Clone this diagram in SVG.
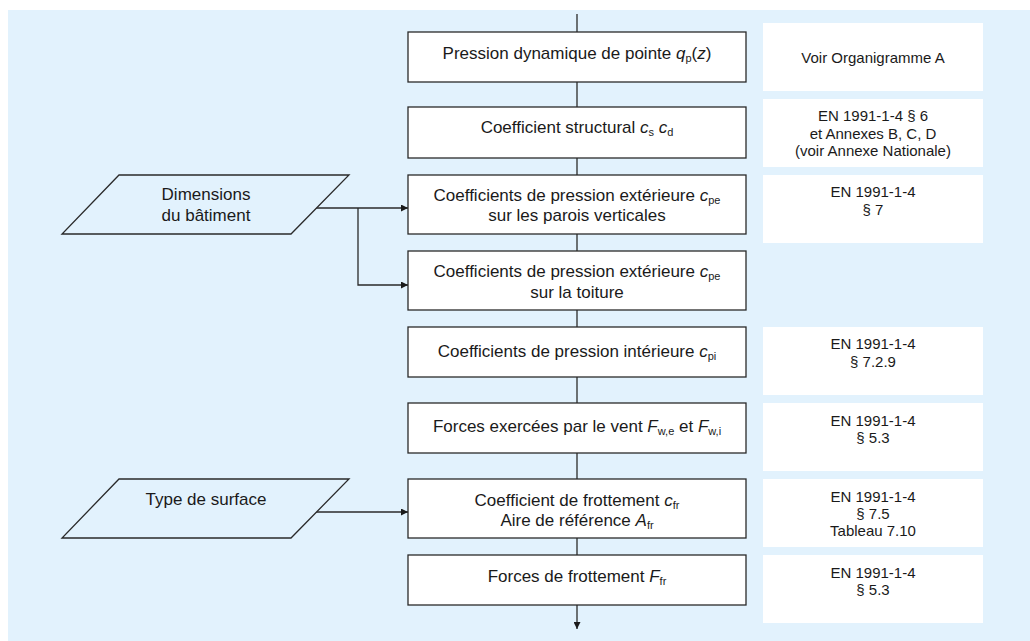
<svg xmlns="http://www.w3.org/2000/svg" width="1030" height="641" viewBox="0 0 1030 641">
<defs>
<style>
.bg{fill:#E2F2FD}
.box{fill:#FFFFFF;stroke:#2A2A2A;stroke-width:1.3}
.ref{fill:#FFFFFF}
.para{fill:#E2F2FD;stroke:#2A2A2A;stroke-width:1.3}
.conn{fill:none;stroke:#2A2A2A;stroke-width:1.3}
.t{font-family:"Liberation Sans",Arial,sans-serif;font-size:17px;fill:#1A1A1A;text-anchor:middle}
.r{font-family:"Liberation Sans",Arial,sans-serif;font-size:15px;fill:#1A1A1A;text-anchor:middle}
.i{font-style:italic}
.s{font-size:11px}
</style>
<marker id="arr" viewBox="0 0 10 10" refX="10" refY="5" markerWidth="7" markerHeight="7" markerUnits="userSpaceOnUse" orient="auto">
<path d="M0,0 L10,5 L0,10 Z" fill="#1A1A1A"/>
</marker>
</defs>
<rect class="bg" x="8" y="10" width="1022" height="631"/>

<g id="connectors">
<line class="conn" x1="577" y1="14" x2="577" y2="32"/>
<line class="conn" x1="577" y1="82" x2="577" y2="107"/>
<line class="conn" x1="577" y1="158" x2="577" y2="175"/>
<line class="conn" x1="577" y1="234" x2="577" y2="251"/>
<line class="conn" x1="577" y1="310" x2="577" y2="327"/>
<line class="conn" x1="577" y1="377" x2="577" y2="403"/>
<line class="conn" x1="577" y1="453" x2="577" y2="479"/>
<line class="conn" x1="577" y1="538" x2="577" y2="555"/>
<line class="conn" x1="577" y1="605" x2="577" y2="629" marker-end="url(#arr)"/>
<line class="conn" x1="315" y1="208" x2="408" y2="208" marker-end="url(#arr)"/>
<polyline class="conn" points="358,208 358,285 408,285" marker-end="url(#arr)"/>
<line class="conn" x1="315" y1="512" x2="408" y2="512" marker-end="url(#arr)"/>
</g>

<g id="n-pression">
<rect class="box" x="408" y="32" width="338" height="50"/>
<text class="t" x="577" y="59">Pression dynamique de pointe <tspan class="i">q</tspan><tspan class="s" dy="3">p</tspan><tspan dy="-3">(</tspan><tspan class="i">z</tspan>)</text>
</g>
<g id="n-structural">
<rect class="box" x="408" y="107" width="338" height="51"/>
<text class="t" x="577" y="133">Coefficient structural <tspan class="i">c</tspan><tspan class="s" dy="3">s</tspan><tspan dy="-3"> </tspan><tspan class="i">c</tspan><tspan class="s" dy="3">d</tspan></text>
</g>
<g id="n-cpe-parois">
<rect class="box" x="408" y="175" width="338" height="59"/>
<text class="t" x="577" y="201">Coefficients de pression extérieure <tspan class="i">c</tspan><tspan class="s" dy="3">pe</tspan></text>
<text class="t" x="577" y="221">sur les parois verticales</text>
</g>
<g id="n-cpe-toiture">
<rect class="box" x="408" y="251" width="338" height="59"/>
<text class="t" x="577" y="277">Coefficients de pression extérieure <tspan class="i">c</tspan><tspan class="s" dy="3">pe</tspan></text>
<text class="t" x="577" y="298">sur la toiture</text>
</g>
<g id="n-cpi">
<rect class="box" x="408" y="327" width="338" height="50"/>
<text class="t" x="577" y="357">Coefficients de pression intérieure <tspan class="i">c</tspan><tspan class="s" dy="3">pi</tspan></text>
</g>
<g id="n-forces-vent">
<rect class="box" x="408" y="403" width="338" height="50"/>
<text class="t" x="577" y="432">Forces exercées par le vent <tspan class="i">F</tspan><tspan class="s" dy="3">w,e</tspan><tspan dy="-3"> et </tspan><tspan class="i">F</tspan><tspan class="s" dy="3">w,i</tspan></text>
</g>
<g id="n-frottement">
<rect class="box" x="408" y="479" width="338" height="59"/>
<text class="t" x="577" y="506">Coefficient de frottement <tspan class="i">c</tspan><tspan class="s" dy="3">fr</tspan></text>
<text class="t" x="577" y="526">Aire de référence <tspan class="i">A</tspan><tspan class="s" dy="3">fr</tspan></text>
</g>
<g id="n-forces-frottement">
<rect class="box" x="408" y="555" width="338" height="50"/>
<text class="t" x="577" y="582">Forces de frottement <tspan class="i">F</tspan><tspan class="s" dy="3">fr</tspan></text>
</g>

<g id="n-dimensions">
<polygon class="para" points="119,175 349,175 291,234 62,234"/>
<text class="t" x="206" y="200">Dimensions</text>
<text class="t" x="206" y="221">du bâtiment</text>
</g>
<g id="n-surface">
<polygon class="para" points="119,479 349,479 291,538 62,538"/>
<text class="t" x="206" y="505">Type de surface</text>
</g>

<g id="ref-1">
<rect class="ref" x="763" y="23" width="220" height="68"/>
<text class="r" x="873" y="63">Voir Organigramme A</text>
</g>
<g id="ref-2">
<rect class="ref" x="763" y="99" width="220" height="68"/>
<text class="r" x="873" y="121">EN 1991-1-4 § 6</text>
<text class="r" x="873" y="139">et Annexes B, C, D</text>
<text class="r" x="873" y="156">(voir Annexe Nationale)</text>
</g>
<g id="ref-3">
<rect class="ref" x="763" y="175" width="220" height="68"/>
<text class="r" x="873" y="197">EN 1991-1-4</text>
<text class="r" x="873" y="215">§ 7</text>
</g>
<g id="ref-5">
<rect class="ref" x="763" y="327" width="220" height="68"/>
<text class="r" x="873" y="349">EN 1991-1-4</text>
<text class="r" x="873" y="367">§ 7.2.9</text>
</g>
<g id="ref-6">
<rect class="ref" x="763" y="403" width="220" height="68"/>
<text class="r" x="873" y="426">EN 1991-1-4</text>
<text class="r" x="873" y="443">§ 5.3</text>
</g>
<g id="ref-7">
<rect class="ref" x="763" y="479" width="220" height="68"/>
<text class="r" x="873" y="502">EN 1991-1-4</text>
<text class="r" x="873" y="519">§ 7.5</text>
<text class="r" x="873" y="536">Tableau 7.10</text>
</g>
<g id="ref-8">
<rect class="ref" x="763" y="555" width="220" height="68"/>
<text class="r" x="873" y="578">EN 1991-1-4</text>
<text class="r" x="873" y="595">§ 5.3</text>
</g>
</svg>
